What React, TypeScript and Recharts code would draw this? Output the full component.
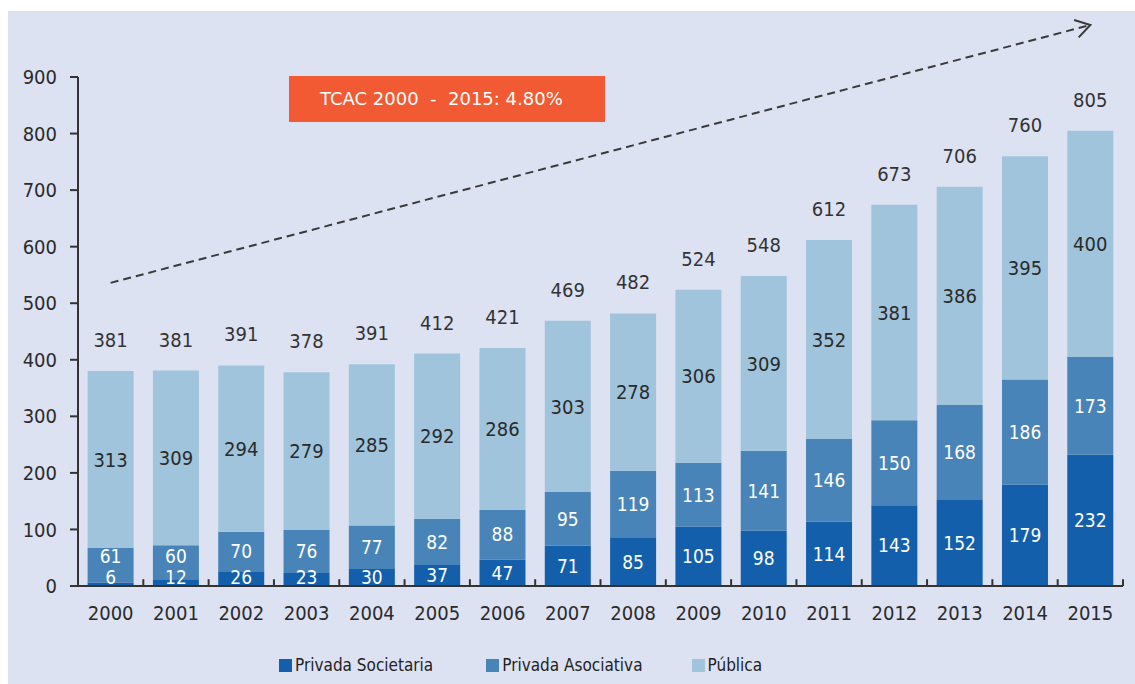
import React from 'react';
import { BarChart, Bar, XAxis, YAxis, LabelList, ReferenceLine } from 'recharts';

const years = ['2000', '2001', '2002', '2003', '2004', '2005', '2006', '2007', '2008', '2009', '2010', '2011', '2012', '2013', '2014', '2015'];
const privadaSocietaria = [6, 12, 26, 23, 30, 37, 47, 71, 85, 105, 98, 114, 143, 152, 179, 232];
const privadaAsociativa = [61, 60, 70, 76, 77, 82, 88, 95, 119, 113, 141, 146, 150, 168, 186, 173];
const publica = [313, 309, 294, 279, 285, 292, 286, 303, 278, 306, 309, 352, 381, 386, 395, 400];
const totals = [381, 381, 391, 378, 391, 412, 421, 469, 482, 524, 548, 612, 673, 706, 760, 805];
const yTicks = [0, 100, 200, 300, 400, 500, 600, 700, 800, 900];
const trendStart = { x: '2000', y: 536 };
const trendEnd = { x: '2015', y: 992 };
const boundaryTickValue = 12;
const tcacText = 'TCAC 2000  -  2015: 4.80%';

const seriesNames = ['Privada Societaria', 'Privada Asociativa', 'Pública'];
const seriesColors = ['#135fab', '#4884b7', '#a0c4dc'];

const data = years.map((year, i) => ({
  year,
  soc: privadaSocietaria[i],
  aso: privadaAsociativa[i],
  pub: publica[i],
  total: totals[i],
}));

const FONT = '"DejaVu Sans Condensed", "DejaVu Sans", sans-serif';
const GAP_FRACTION = 0.147;

function box(props: any) {
  const vb = props.viewBox || {};
  const x = props.x ?? vb.x;
  const y = props.y ?? vb.y;
  const width = props.width ?? vb.width;
  const height = props.height ?? vb.height;
  return { x: Number(x), y: Math.min(Number(y), Number(y) + Number(height)), width: Number(width), height: Math.abs(Number(height)) };
}

const BottomLabel = (props: any) => {
  const { x, y, width, height } = box(props);
  const zero = y + height;
  const cy = Math.min(y + height / 2, zero - 9);
  return (
    <text x={x + width / 2} y={cy} dy="0.36em" textAnchor="middle" fill="#ffffff" fontSize={19} fontFamily={FONT}>
      {props.value}
    </text>
  );
};

const MiddleLabel = (props: any) => {
  const { x, y, width, height } = box(props);
  const idx = props.index ?? 0;
  const val = privadaAsociativa[idx];
  const ppu = height / val;
  const socPx = privadaSocietaria[idx] * ppu;
  const zero = y + height + socPx;
  const bottomLabelY = Math.min(zero - socPx / 2, zero - 9);
  const cy = Math.min(y + height / 2, bottomLabelY - 21);
  return (
    <text x={x + width / 2} y={cy} dy="0.36em" textAnchor="middle" fill="#ffffff" fontSize={19} fontFamily={FONT}>
      {props.value}
    </text>
  );
};

const TopLabel = (props: any) => {
  const { x, y, width, height } = box(props);
  return (
    <text x={x + width / 2} y={y + height / 2} dy="0.36em" textAnchor="middle" fill="#2a2a2a" fontSize={20} fontFamily={FONT}>
      {props.value}
    </text>
  );
};

const TotalLabel = (props: any) => {
  const { x, y, width } = box(props);
  return (
    <text x={x + width / 2} y={y - 24} textAnchor="middle" fill="#333333" fontSize={20} fontFamily={FONT}>
      {props.value}
    </text>
  );
};

const ArrowShape = (props: any) => {
  const { x1, y1, x2, y2 } = props;
  const ang = Math.atan2(y2 - y1, x2 - x1);
  const len = 17;
  const spread = (32 * Math.PI) / 180;
  const ax = x2 - len * Math.cos(ang - spread);
  const ay = y2 - len * Math.sin(ang - spread);
  const bx = x2 - len * Math.cos(ang + spread);
  const by = y2 - len * Math.sin(ang + spread);
  return (
    <g>
      <line x1={x1} y1={y1} x2={x2 - 3 * Math.cos(ang)} y2={y2 - 3 * Math.sin(ang)} stroke="#3a3a3a" strokeWidth={2} strokeDasharray="8 5" />
      <polyline points={`${ax},${ay} ${x2},${y2} ${bx},${by}`} fill="none" stroke="#3a3a3a" strokeWidth={2} />
    </g>
  );
};

export default function App() {
  return (
    <div
      style={{
        position: 'absolute',
        left: 8,
        top: 11,
        width: 1127,
        height: 673,
        background: '#dde2f2',
        fontFamily: FONT,
      }}
    >
      <BarChart
        width={1127}
        height={635}
        data={data}
        margin={{ top: 66, right: 12, bottom: 20, left: 0 }}
        barCategoryGap={`${GAP_FRACTION * 100}%`}
      >
        <XAxis
          dataKey="year"
          height={40}
          tickLine={false}
          tickSize={0}
          tickMargin={20}
          axisLine={{ stroke: '#333333', strokeWidth: 2 }}
          tick={{ fill: '#2a2a2a', fontSize: 20, fontFamily: FONT }}
          interval={0}
        />
        <YAxis
          width={70}
          domain={[0, 900]}
          ticks={yTicks}
          interval={0}
          tickSize={8}
          tickMargin={13}
          axisLine={{ stroke: '#333333', strokeWidth: 2 }}
          tickLine={{ stroke: '#333333', strokeWidth: 2 }}
          tick={{ fill: '#2a2a2a', fontSize: 20, fontFamily: FONT }}
        />
        <Bar dataKey="soc" name={seriesNames[0]} stackId="a" fill={seriesColors[0]} isAnimationActive={false}>
          <LabelList dataKey="soc" content={BottomLabel} />
        </Bar>
        <Bar dataKey="aso" name={seriesNames[1]} stackId="a" fill={seriesColors[1]} isAnimationActive={false}>
          <LabelList dataKey="aso" content={MiddleLabel} />
        </Bar>
        <Bar dataKey="pub" name={seriesNames[2]} stackId="a" fill={seriesColors[2]} isAnimationActive={false}>
          <LabelList dataKey="pub" content={TopLabel} />
          <LabelList dataKey="total" content={TotalLabel} />
        </Bar>
        {years.map((yr) => (
          <ReferenceLine
            key={`bt-${yr}`}
            segment={[{ x: yr, y: 0 }, { x: yr, y: boundaryTickValue }]}
            position="end"
            ifOverflow="visible"
            stroke="#333333"
            strokeWidth={2}
          />
        ))}
        <ReferenceLine
          segment={[trendStart, trendEnd]}
          ifOverflow="visible"
          shape={ArrowShape}
        />
      </BarChart>

      <div
        style={{
          position: 'absolute',
          left: 281,
          top: 65,
          width: 316,
          height: 46,
          background: '#f15a32',
          color: '#ffffff',
          fontFamily: '"DejaVu Sans", sans-serif',
          fontSize: 18,
          lineHeight: '46px',
          paddingLeft: 31,
          boxSizing: 'border-box',
          whiteSpace: 'pre',
        }}
      >
        {tcacText}
      </div>

      <div
        style={{
          position: 'absolute',
          left: 271,
          top: 643,
          height: 22,
          display: 'flex',
          alignItems: 'center',
          fontSize: 17,
          color: '#222222',
          whiteSpace: 'nowrap',
        }}
      >
        {seriesNames.map((n, i) => (
          <div key={n} style={{ display: 'flex', alignItems: 'center', marginRight: i === 0 ? 53 : 49 }}>
            <span style={{ display: 'inline-block', width: 13, height: 13, background: seriesColors[i], marginRight: 3 }} />
            <span>{n}</span>
          </div>
        ))}
      </div>
    </div>
  );
}
